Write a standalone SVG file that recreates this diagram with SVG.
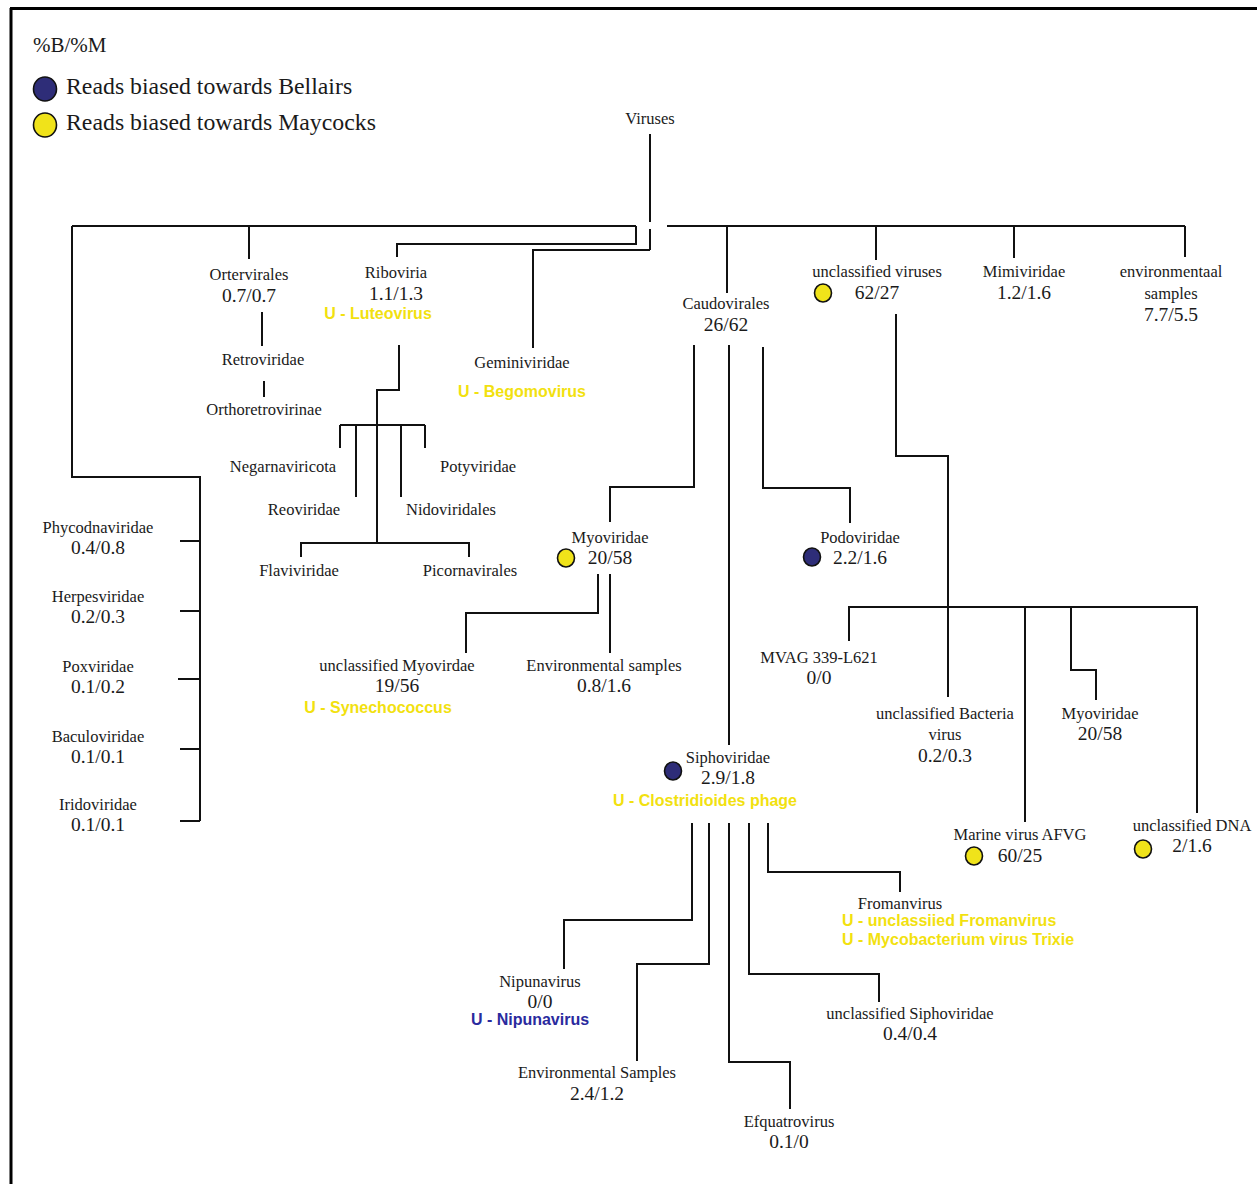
<svg xmlns="http://www.w3.org/2000/svg" width="1257" height="1184" viewBox="0 0 1257 1184">
<style>
.t{font-family:"Liberation Serif","Times New Roman",serif;font-size:16.5px;fill:#1a1a1a;text-anchor:middle}
.n{font-size:19.5px}
.lg{font-family:"Liberation Serif","Times New Roman",serif;font-size:23.8px;fill:#1a1a1a}
.u{font-family:"Liberation Sans",Arial,sans-serif;font-size:16px;font-weight:bold;fill:#f2e10f;text-anchor:middle}
.ub{fill:#2a2a9e}
.l{fill:none;stroke:#111;stroke-width:2}
.b{fill:#2e2d78;stroke:#111;stroke-width:1.6}
.y{fill:#f0e31a;stroke:#111;stroke-width:1.6}
</style>
<rect x="0" y="0" width="1257" height="1184" fill="#fff"/>
<g id="frame"><path d="M10,8.5H1257M11,8V1184" stroke="#000" stroke-width="3" fill="none"/></g>
<g id="legend">
<text x="33" y="52" style="font-family:'Liberation Serif','Times New Roman',serif;font-size:21px;fill:#1a1a1a">%B/%M</text>
<ellipse class="b" cx="45" cy="89" rx="11.5" ry="12"/>
<text class="lg" x="66" y="94">Reads biased towards Bellairs</text>
<ellipse class="y" cx="45" cy="125" rx="11.5" ry="12"/>
<text class="lg" x="66" y="130">Reads biased towards Maycocks</text>
</g>
<g id="connectors">
<path class="l" d="M650,134V222M650,229V250"/>
<path class="l" d="M72,226H636M72,226V477H200V821M180,541H200M180,611H200M178,679H200M180,749H200M180,821H200"/>
<path class="l" d="M249,226V259"/>
<path class="l" d="M636,226V244H397V257"/>
<path class="l" d="M650,250H533V348"/>
<path class="l" d="M262,312V346M264,381V397"/>
<path class="l" d="M399,345V390H377V543M340,425H425M340,425V448M356,425V497M401,425V497M425,425V448M301,557V543H469V557"/>
<path class="l" d="M667,226H1185M727,226V293M876,226V260M1014,226V258M1185,226V257"/>
<path class="l" d="M694,345V487H610V522M729,345V745M763,347V488H850V523"/>
<path class="l" d="M598,574V613H466V653M610,574V653"/>
<path class="l" d="M896,314V456H948V697M849,641V607H1197V813M1025,607V822M1071,607V670H1096V700"/>
<path class="l" d="M692,823V920H564V969M709,823V964H637V1061M729,823V1062H790V1109M749,823V974H879V1002M768,823V872H900V892"/>
</g>
<g id="n-viruses"><text class="t" x="650" y="124">Viruses</text></g>
<g id="n-ortervirales"><text class="t" x="249" y="280">Ortervirales</text><text class="t n" x="249" y="302">0.7/0.7</text></g>
<g id="n-riboviria"><text class="t" x="396" y="278">Riboviria</text><text class="t n" x="396" y="300">1.1/1.3</text><text class="u" x="378" y="319">U - Luteovirus</text></g>
<g id="n-retroviridae"><text class="t" x="263" y="365">Retroviridae</text></g>
<g id="n-orthoretrovirinae"><text class="t" x="264" y="415">Orthoretrovirinae</text></g>
<g id="n-geminiviridae"><text class="t" x="522" y="368">Geminiviridae</text><text class="u" x="522" y="397">U - Begomovirus</text></g>
<g id="n-caudovirales"><text class="t" x="726" y="309">Caudovirales</text><text class="t n" x="726" y="331">26/62</text></g>
<g id="n-unclassified-viruses"><text class="t" x="877" y="277">unclassified viruses</text><ellipse class="y" cx="823" cy="293" rx="8.5" ry="9"/><text class="t n" x="877" y="299">62/27</text></g>
<g id="n-mimiviridae"><text class="t" x="1024" y="277">Mimiviridae</text><text class="t n" x="1024" y="299">1.2/1.6</text></g>
<g id="n-environmental"><text class="t" x="1171" y="277">environmentaal</text><text class="t" x="1171" y="299">samples</text><text class="t n" x="1171" y="321">7.7/5.5</text></g>
<g id="n-negarnaviricota"><text class="t" x="283" y="472">Negarnaviricota</text></g>
<g id="n-potyviridae"><text class="t" x="478" y="472">Potyviridae</text></g>
<g id="n-reoviridae"><text class="t" x="304" y="515">Reoviridae</text></g>
<g id="n-nidoviridales"><text class="t" x="451" y="515">Nidoviridales</text></g>
<g id="n-flaviviridae"><text class="t" x="299" y="576">Flaviviridae</text></g>
<g id="n-picornavirales"><text class="t" x="470" y="576">Picornavirales</text></g>
<g id="n-phycodnaviridae"><text class="t" x="98" y="533">Phycodnaviridae</text><text class="t n" x="98" y="554">0.4/0.8</text></g>
<g id="n-herpesviridae"><text class="t" x="98" y="602">Herpesviridae</text><text class="t n" x="98" y="623">0.2/0.3</text></g>
<g id="n-poxviridae"><text class="t" x="98" y="672">Poxviridae</text><text class="t n" x="98" y="693">0.1/0.2</text></g>
<g id="n-baculoviridae"><text class="t" x="98" y="742">Baculoviridae</text><text class="t n" x="98" y="763">0.1/0.1</text></g>
<g id="n-iridoviridae"><text class="t" x="98" y="810">Iridoviridae</text><text class="t n" x="98" y="831">0.1/0.1</text></g>
<g id="n-myoviridae"><text class="t" x="610" y="543">Myoviridae</text><ellipse class="y" cx="566" cy="558" rx="8.5" ry="9"/><text class="t n" x="610" y="564">20/58</text></g>
<g id="n-podoviridae"><text class="t" x="860" y="543">Podoviridae</text><ellipse class="b" cx="812" cy="557" rx="8.5" ry="9"/><text class="t n" x="860" y="564">2.2/1.6</text></g>
<g id="n-unclassified-myovirdae"><text class="t" x="397" y="671">unclassified Myovirdae</text><text class="t n" x="397" y="692">19/56</text><text class="u" x="378" y="713">U - Synechococcus</text></g>
<g id="n-env-samples-myo"><text class="t" x="604" y="671">Environmental samples</text><text class="t n" x="604" y="692">0.8/1.6</text></g>
<g id="n-mvag"><text class="t" x="819" y="663">MVAG 339-L621</text><text class="t n" x="819" y="684">0/0</text></g>
<g id="n-unclassified-bacteria-virus"><text class="t" x="945" y="719">unclassified Bacteria</text><text class="t" x="945" y="740">virus</text><text class="t n" x="945" y="762">0.2/0.3</text></g>
<g id="n-myoviridae-2"><text class="t" x="1100" y="719">Myoviridae</text><text class="t n" x="1100" y="740">20/58</text></g>
<g id="n-siphoviridae"><text class="t" x="728" y="763">Siphoviridae</text><ellipse class="b" cx="673" cy="771" rx="8.5" ry="9"/><text class="t n" x="728" y="784">2.9/1.8</text><text class="u" x="705" y="806">U - Clostridioides phage</text></g>
<g id="n-marine-virus"><text class="t" x="1020" y="840">Marine virus AFVG</text><ellipse class="y" cx="974" cy="856" rx="8.5" ry="9"/><text class="t n" x="1020" y="862">60/25</text></g>
<g id="n-unclassified-dna"><text class="t" x="1192" y="831">unclassified DNA</text><ellipse class="y" cx="1143" cy="849" rx="8.5" ry="9"/><text class="t n" x="1192" y="852">2/1.6</text></g>
<g id="n-fromanvirus"><text class="t" x="900" y="909">Fromanvirus</text><text class="u" x="842" y="926" style="text-anchor:start">U - unclassiied Fromanvirus</text><text class="u" x="842" y="945" style="text-anchor:start">U - Mycobacterium virus Trixie</text></g>
<g id="n-nipunavirus"><text class="t" x="540" y="987">Nipunavirus</text><text class="t n" x="540" y="1008">0/0</text><text class="u ub" x="530" y="1025">U - Nipunavirus</text></g>
<g id="n-env-samples-sipho"><text class="t" x="597" y="1078">Environmental Samples</text><text class="t n" x="597" y="1100">2.4/1.2</text></g>
<g id="n-unclassified-siphoviridae"><text class="t" x="910" y="1019">unclassified Siphoviridae</text><text class="t n" x="910" y="1040">0.4/0.4</text></g>
<g id="n-efquatrovirus"><text class="t" x="789" y="1127">Efquatrovirus</text><text class="t n" x="789" y="1148">0.1/0</text></g>
</svg>
